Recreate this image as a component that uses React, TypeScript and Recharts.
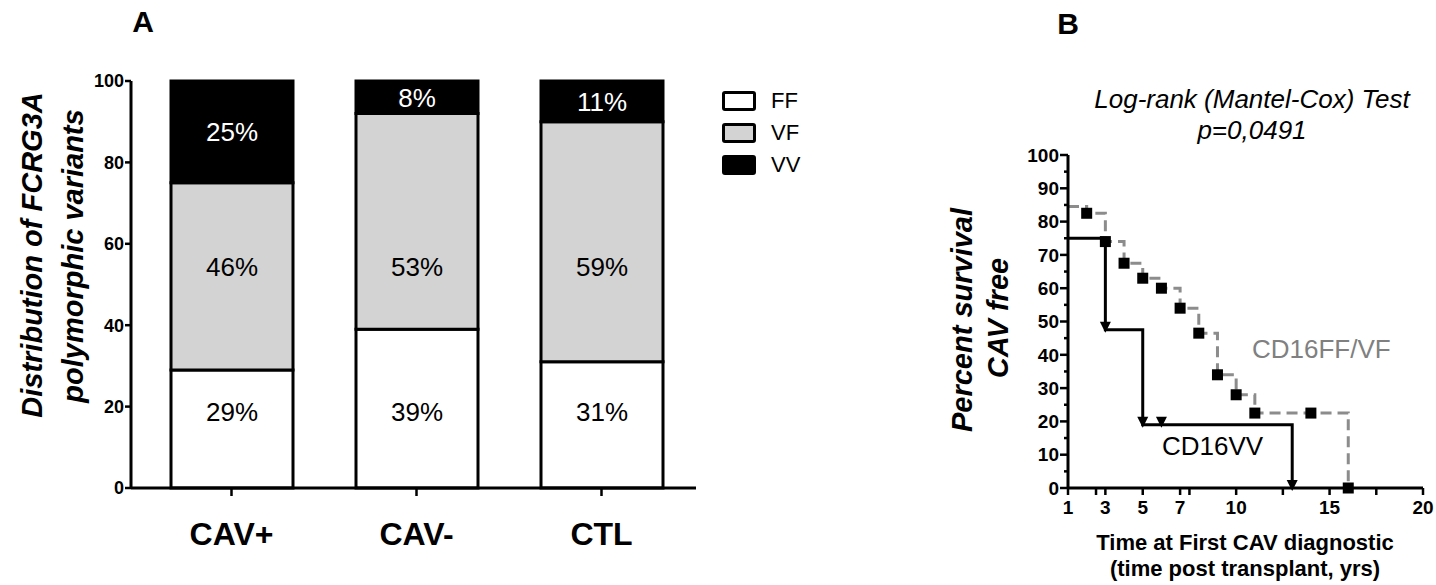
import React from 'react'
import { BarChart, Bar, XAxis, YAxis, Legend, LabelList, ComposedChart, Line } from 'recharts'

const FONT = '"Liberation Sans", Arial, Helvetica, sans-serif'

// panel A: FCGR3A genotype distribution per group
const groups = ['CAV+', 'CAV-', 'CTL']
const ffShare = [29, 39, 31]
const vfShare = [46, 53, 59]
const vvShare = [25, 8, 10]
const ffText = ['29%', '39%', '31%']
const vfText = ['46%', '53%', '59%']
const vvText = ['25%', '8%', '11%']
const distTicks = [0, 20, 40, 60, 80, 100]

// panel B: Kaplan-Meier, CAV free survival
const ffvfYears = [1, 2, 3, 4, 5, 6, 7, 8, 9, 10, 11, 14, 16]
const ffvfSurvival = [84.5, 82.5, 74, 67.5, 63, 60, 54, 46.5, 34, 28, 22.5, 22.5, 0]
const vvYears = [1, 3, 5, 6, 13]
const vvSurvival = [75, 47.5, 19, 19, 0]
const timeTicks = [1, 2.5, 3, 5, 7, 7.5, 10, 12.5, 15, 17.5, 20]
const timeLabels = [1, 3, 5, 7, 10, 15, 20]
const survivalTicks = [0, 5, 10, 15, 20, 25, 30, 35, 40, 45, 50, 55, 60, 65, 70, 75, 80, 85, 90, 95, 100]

const variantFill: Record<string, string> = { FF: '#ffffff', VF: '#d3d3d3', VV: '#000000' }

const distRows = groups.map((group, i) => ({
  group,
  FF: ffShare[i],
  VF: vfShare[i],
  VV: vvShare[i],
  ffText: ffText[i],
  vfText: vfText[i],
  vvText: vvText[i],
}))

const ffvfRows = ffvfYears.map((x, i) => ({ x, y: ffvfSurvival[i] }))
const vvRows = vvYears.map((x, i) => ({ x, y: vvSurvival[i] }))

const axisStroke = { stroke: '#000', strokeWidth: 3 }
const tickStroke = { stroke: '#000', strokeWidth: 2.5 }

// FF and VF labels sit on fixed rows in the original figure
const rowLabel = (centerY: number, color: string) => (props: any) => {
  const vb = props.viewBox || props
  return (
    <text x={vb.x + vb.width / 2} y={centerY} dy="0.355em" textAnchor="middle" fill={color} fontSize={26} fontFamily={FONT}>
      {props.value}
    </text>
  )
}

const centerLabel = (color: string) => (props: any) => {
  const vb = props.viewBox || props
  return (
    <text x={vb.x + vb.width / 2} y={vb.y + vb.height / 2} dy="0.355em" textAnchor="middle" fill={color} fontSize={26} fontFamily={FONT}>
      {props.value}
    </text>
  )
}

const GroupTick = ({ x, y, payload }: any) => (
  <text x={x} y={y} dy={47} textAnchor="middle" fontSize={32} fontWeight="bold" fontFamily={FONT} fill="#000">
    {payload.value}
  </text>
)

const legendContent = ({ payload }: any) => (
  <div>
    {(payload || []).map((entry: any) => (
      <div key={entry.value} style={{ display: 'flex', alignItems: 'center', height: 32 }}>
        <div
          style={{
            width: 28,
            height: 14,
            border: '3px solid #000',
            borderRadius: 3,
            background: variantFill[entry.value],
          }}
        />
        <span style={{ marginLeft: 15, fontSize: 22, fontFamily: FONT, color: '#000' }}>{entry.value}</span>
      </div>
    ))}
  </div>
)

const TimeTick = ({ x, y, payload }: any) => (
  <text x={x} y={y} dy="0.71em" textAnchor="middle" fontSize={19} fontWeight="bold" fontFamily={FONT} fill="#000">
    {timeLabels.includes(payload.value) ? payload.value : ''}
  </text>
)

const SurvivalTick = ({ x, y, payload }: any) => {
  const major = payload.value % 10 === 0
  const ax = x + 9
  return (
    <g>
      <line x1={ax - (major ? 8 : 4)} x2={ax} y1={y} y2={y} stroke="#000" strokeWidth={2.5} />
      {major ? (
        <text x={x} y={y} dy="0.355em" textAnchor="end" fontSize={19} fontWeight="bold" fontFamily={FONT} fill="#000">
          {payload.value}
        </text>
      ) : null}
    </g>
  )
}

const squareDot = (props: any) => {
  const { cx, cy, index } = props
  if (index === 0) return <g key={`sq${index}`} />
  return <rect key={`sq${index}`} x={cx - 5.5} y={cy - 5.5} width={11} height={11} fill="#000" />
}

const arrowDot = (props: any) => {
  const { cx, cy, index } = props
  if (index === 0) return <g key={`tr${index}`} />
  return <polygon key={`tr${index}`} points={`${cx - 5.5},${cy - 8} ${cx + 5.5},${cy - 8} ${cx},${cy + 3}`} fill="#000" />
}

const txt = { fontFamily: FONT, fill: '#000' }

export default function App() {
  return (
    <div style={{ position: 'absolute', left: 0, top: 0, width: 1436, height: 585, background: '#fff', overflow: 'hidden' }}>
      <div style={{ position: 'absolute', left: 0, top: 0 }}>
        {/* legend sits on the right: width 840 - margin 24 - legend 120 leaves the plot ending at x=696 */}
        <BarChart width={840} height={585} data={distRows} margin={{ top: 81, right: 24, bottom: 0, left: 0 }}>
          <XAxis
            dataKey="group"
            height={97}
            padding={{ left: 8, right: 2 }}
            axisLine={axisStroke}
            tickLine={tickStroke}
            tickSize={8}
            tickMargin={2}
            interval={0}
            tick={<GroupTick />}
          />
          <YAxis
            width={131}
            type="number"
            domain={[0, 100]}
            ticks={distTicks}
            interval={0}
            axisLine={axisStroke}
            tickLine={tickStroke}
            tickSize={6}
            tickMargin={1}
            tick={{ fontSize: 18, fontWeight: 'bold', fill: '#000', fontFamily: FONT }}
          />
          <Legend
            layout="vertical"
            align="right"
            verticalAlign="middle"
            content={legendContent}
            wrapperStyle={{ position: 'absolute', left: 722, top: 85, right: 'auto', bottom: 'auto', width: 120 }}
          />
          <Bar dataKey="FF" name="FF" stackId="g" barSize={122} fill={variantFill.FF} stroke="#000" strokeWidth={3} isAnimationActive={false}>
            <LabelList dataKey="ffText" content={rowLabel(412, '#000')} />
          </Bar>
          <Bar dataKey="VF" name="VF" stackId="g" barSize={122} fill={variantFill.VF} stroke="#000" strokeWidth={3} isAnimationActive={false}>
            <LabelList dataKey="vfText" content={rowLabel(267, '#000')} />
          </Bar>
          <Bar dataKey="VV" name="VV" stackId="g" barSize={122} fill={variantFill.VV} stroke="#000" strokeWidth={3} isAnimationActive={false}>
            <LabelList dataKey="vvText" content={centerLabel('#fff')} />
          </Bar>
        </BarChart>
      </div>

      <div style={{ position: 'absolute', left: 930, top: 0 }}>
        <ComposedChart width={506} height={585} margin={{ top: 155, right: 13, bottom: 0, left: 0 }}>
          <XAxis
            xAxisId="b"
            type="number"
            dataKey="x"
            domain={[1, 20]}
            ticks={timeTicks}
            interval={0}
            height={97}
            tickSize={7}
            tickMargin={6}
            axisLine={axisStroke}
            tickLine={tickStroke}
            tick={<TimeTick />}
          />
          <XAxis xAxisId="t" orientation="top" type="number" dataKey="x" domain={[1, 20]} height={0} tick={false} tickLine={false} axisLine={axisStroke} />
          <YAxis
            yAxisId="l"
            type="number"
            domain={[0, 100]}
            ticks={survivalTicks}
            interval={0}
            width={138}
            tickLine={false}
            tickSize={8}
            tickMargin={1}
            axisLine={axisStroke}
            tick={<SurvivalTick />}
          />
          <YAxis yAxisId="r" orientation="right" type="number" domain={[0, 100]} width={0} tick={false} tickLine={false} axisLine={axisStroke} />
          <Line
            xAxisId="b"
            yAxisId="l"
            data={ffvfRows}
            dataKey="y"
            type="stepAfter"
            stroke="#8c8c8c"
            strokeWidth={3}
            strokeDasharray="11 6"
            dot={squareDot}
            activeDot={false}
            isAnimationActive={false}
          />
          <Line
            xAxisId="b"
            yAxisId="l"
            data={vvRows}
            dataKey="y"
            type="stepAfter"
            stroke="#000"
            strokeWidth={3}
            dot={arrowDot}
            activeDot={false}
            isAnimationActive={false}
          />
        </ComposedChart>
      </div>

      <svg width={1436} height={585} style={{ position: 'absolute', left: 0, top: 0, pointerEvents: 'none' }}>
        <text x={143} y={32} textAnchor="middle" fontSize={30} fontWeight="bold" {...txt}>A</text>
        <text x={1068} y={34} textAnchor="middle" fontSize={30} fontWeight="bold" {...txt}>B</text>

        <text transform="translate(42,255) rotate(-90)" textAnchor="middle" fontSize={29} fontWeight="bold" fontStyle="italic" {...txt}>
          Distribution of FCRG3A
        </text>
        <text transform="translate(83,256) rotate(-90)" textAnchor="middle" fontSize={29} fontWeight="bold" fontStyle="italic" {...txt}>
          polymorphic variants
        </text>

        <text x={1252} y={108} textAnchor="middle" fontSize={26} fontStyle="italic" {...txt}>Log-rank (Mantel-Cox) Test</text>
        <text x={1252} y={139} textAnchor="middle" fontSize={26} fontStyle="italic" {...txt}>p=0,0491</text>

        <text transform="translate(972,320) rotate(-90)" textAnchor="middle" fontSize={29} fontWeight="bold" fontStyle="italic" {...txt}>
          Percent survival
        </text>
        <text transform="translate(1008,318) rotate(-90)" textAnchor="middle" fontSize={29} fontWeight="bold" fontStyle="italic" {...txt}>
          CAV free
        </text>

        <text x={1245} y={550} textAnchor="middle" fontSize={22} fontWeight="bold" {...txt}>Time at First CAV diagnostic</text>
        <text x={1245} y={576} textAnchor="middle" fontSize={22} fontWeight="bold" {...txt}>(time post transplant, yrs)</text>

        <text x={1252} y={358} fontSize={26} fontFamily={FONT} fill="#808080">CD16FF/VF</text>
        <text x={1162} y={455} fontSize={26} {...txt}>CD16VV</text>
      </svg>
    </div>
  )
}
